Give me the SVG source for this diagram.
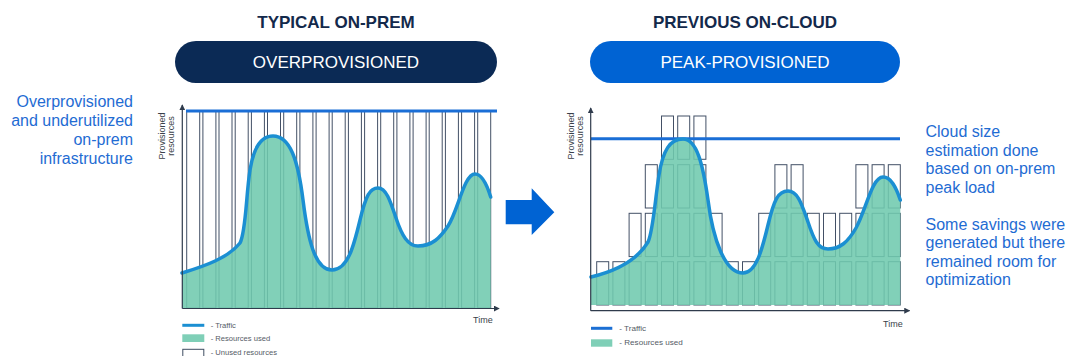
<svg xmlns="http://www.w3.org/2000/svg" width="1068" height="356" viewBox="0 0 1068 356">
<defs>
<style>
.hdr{font-family:"Liberation Sans",Arial,sans-serif;font-weight:bold;font-size:17px;fill:#13294b;text-anchor:middle}
.pill{font-family:"Liberation Sans",Arial,sans-serif;font-size:17px;fill:#ffffff;text-anchor:middle}
.note{font-family:"Liberation Sans",Arial,sans-serif;font-size:16px;fill:#1f6cd3}
.ax{font-family:"Liberation Sans",Arial,sans-serif;font-size:9px;fill:#3a3f4a}
.leg{font-family:"Liberation Sans",Arial,sans-serif;font-size:7.6px;fill:#555b66}
.legr{font-family:"Liberation Sans",Arial,sans-serif;font-size:8.1px;fill:#555b66}
.axis{stroke:#2f3b4c;stroke-width:1.2;fill:none}
.box{fill:#ffffff;stroke:#435066;stroke-width:1}
.area{fill:#6fcaae;fill-opacity:0.88}
.traffic{fill:none;stroke:#1b8fd2;stroke-width:3.5;stroke-linejoin:round;stroke-linecap:round}
.cap{stroke:#1a6ed6;stroke-width:3;fill:none}
</style>
<marker id="ah" viewBox="0 0 8 8" refX="7" refY="4" markerWidth="6" markerHeight="6" markerUnits="userSpaceOnUse" orient="auto">
<path d="M0,0 L8,4 L0,8 Z" fill="#2f3b4c"/>
</marker>
</defs>

<!-- Headers -->
<g id="left-header">
<text class="hdr" x="336" y="28">TYPICAL ON-PREM</text>
<rect x="175" y="41" width="322" height="42" rx="21" fill="#0b2a55"/>
<text class="pill" x="336" y="68">OVERPROVISIONED</text>
</g>
<g id="right-header">
<text class="hdr" x="745" y="28">PREVIOUS ON-CLOUD</text>
<rect x="590" y="41" width="310" height="42" rx="21" fill="#0063d3"/>
<text class="pill" x="745" y="68">PEAK-PROVISIONED</text>
</g>

<!-- Left notes -->
<g id="left-note">
<text class="note" x="133" y="107" text-anchor="end">Overprovisioned</text>
<text class="note" x="133" y="126" text-anchor="end">and underutilized</text>
<text class="note" x="133" y="145" text-anchor="end">on-prem</text>
<text class="note" x="133" y="164" text-anchor="end">infrastructure</text>
</g>

<!-- Left chart -->
<g id="left-chart">
<g id="left-bars">
<rect class="box" x="186.7" y="111" width="13" height="197"/>
<rect class="box" x="202.9" y="111" width="13" height="197"/>
<rect class="box" x="219.0" y="111" width="13" height="197"/>
<rect class="box" x="235.2" y="111" width="13" height="197"/>
<rect class="box" x="251.4" y="111" width="13" height="197"/>
<rect class="box" x="267.5" y="111" width="13" height="197"/>
<rect class="box" x="283.7" y="111" width="13" height="197"/>
<rect class="box" x="299.9" y="111" width="13" height="197"/>
<rect class="box" x="316.1" y="111" width="13" height="197"/>
<rect class="box" x="332.2" y="111" width="13" height="197"/>
<rect class="box" x="348.4" y="111" width="13" height="197"/>
<rect class="box" x="364.6" y="111" width="13" height="197"/>
<rect class="box" x="380.7" y="111" width="13" height="197"/>
<rect class="box" x="396.9" y="111" width="13" height="197"/>
<rect class="box" x="413.1" y="111" width="13" height="197"/>
<rect class="box" x="429.2" y="111" width="13" height="197"/>
<rect class="box" x="445.4" y="111" width="13" height="197"/>
<rect class="box" x="461.6" y="111" width="13" height="197"/>
<rect class="box" x="477.7" y="111" width="13" height="197"/>
</g>
<path class="area" d="M182,273 C205,266 228,258 240,243 C246,232 246,195 250,170 C254,145 262,136 273,136 C290,136 298,160 303,200 C308,240 315,270 332,270 C348,270 354,245 360,220 C366,195 370,188 378,188 C386,188 390,200 396,218 C402,236 408,246 418,246 C432,246 440,238 448,226 C458,211 464,174 475,174 C482,174 487,185 490.7,197 L490.7,308 L182,308 Z"/>
<path class="traffic" d="M182,273 C205,266 228,258 240,243 C246,232 246,195 250,170 C254,145 262,136 273,136 C290,136 298,160 303,200 C308,240 315,270 332,270 C348,270 354,245 360,220 C366,195 370,188 378,188 C386,188 390,200 396,218 C402,236 408,246 418,246 C432,246 440,238 448,226 C458,211 464,174 475,174 C482,174 487,185 490.7,197"/>
<line class="cap" x1="186" y1="111" x2="497" y2="111"/>
<path class="axis" d="M182.3,308.5 L182.3,105" marker-end="url(#ah)"/>
<path class="axis" d="M182.3,308.5 L499,308.5" marker-end="url(#ah)"/>
<text class="ax" transform="translate(165,136) rotate(-90)" text-anchor="middle">Provisioned</text>
<text class="ax" transform="translate(174,136) rotate(-90)" text-anchor="middle">resources</text>
<text class="ax" x="473" y="323">Time</text>
</g>

<g id="left-legend">
<line x1="182.3" y1="325.3" x2="204.3" y2="325.3" stroke="#1b8fd2" stroke-width="3"/>
<text class="leg" x="210.7" y="328">- Traffic</text>
<rect x="182.3" y="334.3" width="22" height="7.7" fill="#7fcfb7"/>
<text class="leg" x="210.7" y="340.5">- Resources used</text>
<rect x="182.8" y="349.3" width="21" height="10" fill="#ffffff" stroke="#3f4d62" stroke-width="1"/>
<text class="leg" x="210.7" y="354.5">- Unused resources</text>
</g>

<!-- Arrow -->
<g id="arrow">
<path d="M505.7,200 L531.7,200 L531.7,188.3 L554.3,212.3 L531.7,235 L531.7,224.3 L505.7,224.3 Z" fill="#0063d3"/>
</g>

<!-- Right chart -->
<g id="right-chart">
<g id="right-boxes">
<rect class="box" x="596.7" y="261.7" width="12" height="43.3"/>
<rect class="box" x="612.9" y="261.7" width="12" height="43.3"/>
<rect class="box" x="629.1" y="261.7" width="12" height="43.3"/>
<rect class="box" x="645.3" y="261.7" width="12" height="43.3"/>
<rect class="box" x="661.5" y="261.7" width="12" height="43.3"/>
<rect class="box" x="677.7" y="261.7" width="12" height="43.3"/>
<rect class="box" x="693.9" y="261.7" width="12" height="43.3"/>
<rect class="box" x="710.1" y="261.7" width="12" height="43.3"/>
<rect class="box" x="726.3" y="261.7" width="12" height="43.3"/>
<rect class="box" x="742.5" y="261.7" width="12" height="43.3"/>
<rect class="box" x="758.7" y="261.7" width="12" height="43.3"/>
<rect class="box" x="774.9" y="261.7" width="12" height="43.3"/>
<rect class="box" x="791.1" y="261.7" width="12" height="43.3"/>
<rect class="box" x="807.3" y="261.7" width="12" height="43.3"/>
<rect class="box" x="823.5" y="261.7" width="12" height="43.3"/>
<rect class="box" x="839.7" y="261.7" width="12" height="43.3"/>
<rect class="box" x="855.9" y="261.7" width="12" height="43.3"/>
<rect class="box" x="872.1" y="261.7" width="12" height="43.3"/>
<rect class="box" x="888.3" y="261.7" width="12" height="43.3"/>
<rect class="box" x="629.1" y="213.3" width="12" height="43.3"/>
<rect class="box" x="645.3" y="213.3" width="12" height="43.3"/>
<rect class="box" x="661.5" y="213.3" width="12" height="43.3"/>
<rect class="box" x="677.7" y="213.3" width="12" height="43.3"/>
<rect class="box" x="693.9" y="213.3" width="12" height="43.3"/>
<rect class="box" x="710.1" y="213.3" width="12" height="43.3"/>
<rect class="box" x="758.7" y="213.3" width="12" height="43.3"/>
<rect class="box" x="774.9" y="213.3" width="12" height="43.3"/>
<rect class="box" x="791.1" y="213.3" width="12" height="43.3"/>
<rect class="box" x="807.3" y="213.3" width="12" height="43.3"/>
<rect class="box" x="823.5" y="213.3" width="12" height="43.3"/>
<rect class="box" x="839.7" y="213.3" width="12" height="43.3"/>
<rect class="box" x="855.9" y="213.3" width="12" height="43.3"/>
<rect class="box" x="872.1" y="213.3" width="12" height="43.3"/>
<rect class="box" x="888.3" y="213.3" width="12" height="43.3"/>
<rect class="box" x="645.3" y="164.7" width="12" height="43.3"/>
<rect class="box" x="661.5" y="164.7" width="12" height="43.3"/>
<rect class="box" x="677.7" y="164.7" width="12" height="43.3"/>
<rect class="box" x="693.9" y="164.7" width="12" height="43.3"/>
<rect class="box" x="774.9" y="164.7" width="12" height="43.3"/>
<rect class="box" x="791.1" y="164.7" width="12" height="43.3"/>
<rect class="box" x="855.9" y="164.7" width="12" height="43.3"/>
<rect class="box" x="872.1" y="164.7" width="12" height="43.3"/>
<rect class="box" x="888.3" y="164.7" width="12" height="43.3"/>
<rect class="box" x="661.5" y="116" width="12" height="43.3"/>
<rect class="box" x="677.7" y="116" width="12" height="43.3"/>
<rect class="box" x="693.9" y="116" width="12" height="43.3"/>
</g>
<path class="area" d="M591,277 C612,272 636,262 648,242 C653,232 655,200 659,175 C663,150 670,139 683,139 C697,139 703,165 708,200 C713,240 725,273 743,273 C756,273 762,250 768,225 C774,200 778,191 788,191 C798,191 802,205 808,222 C814,240 818,249 828,249 C840,249 848,242 856,228 C866,210 872,177 883,177 C891,177 896,187 900.3,200 L900.3,305 L591,305 Z"/>
<line class="cap" x1="591" y1="138.7" x2="900" y2="138.7"/>
<path class="traffic" d="M591,277 C612,272 636,262 648,242 C653,232 655,200 659,175 C663,150 670,139 683,139 C697,139 703,165 708,200 C713,240 725,273 743,273 C756,273 762,250 768,225 C774,200 778,191 788,191 C798,191 802,205 808,222 C814,240 818,249 828,249 C840,249 848,242 856,228 C866,210 872,177 883,177 C891,177 896,187 900.3,200"/>
<path class="axis" d="M590.7,310.7 L590.7,108" marker-end="url(#ah)"/>
<path class="axis" d="M590.7,310.7 L909.5,310.7" marker-end="url(#ah)"/>
<text class="ax" transform="translate(573.5,136) rotate(-90)" text-anchor="middle">Provisioned</text>
<text class="ax" transform="translate(582.5,136) rotate(-90)" text-anchor="middle">resources</text>
<text class="ax" x="883" y="326.5">Time</text>
</g>

<g id="right-legend">
<line x1="591" y1="328.3" x2="612.3" y2="328.3" stroke="#1b6fd4" stroke-width="3"/>
<text class="legr" x="619.3" y="331">- Traffic</text>
<rect x="591" y="339.3" width="21.3" height="7.4" fill="#7fcfb7"/>
<text class="legr" x="619.3" y="345.3">- Resources used</text>
</g>

<!-- Right notes -->
<g id="right-note">
<text class="note" x="925.5" y="137">Cloud size</text>
<text class="note" x="925.5" y="155.5">estimation done</text>
<text class="note" x="925.5" y="174">based on on-prem</text>
<text class="note" x="925.5" y="192.5">peak load</text>
<text class="note" x="925.5" y="229.5">Some savings were</text>
<text class="note" x="925.5" y="248">generated but there</text>
<text class="note" x="925.5" y="266.5">remained room for</text>
<text class="note" x="925.5" y="285">optimization</text>
</g>
</svg>
